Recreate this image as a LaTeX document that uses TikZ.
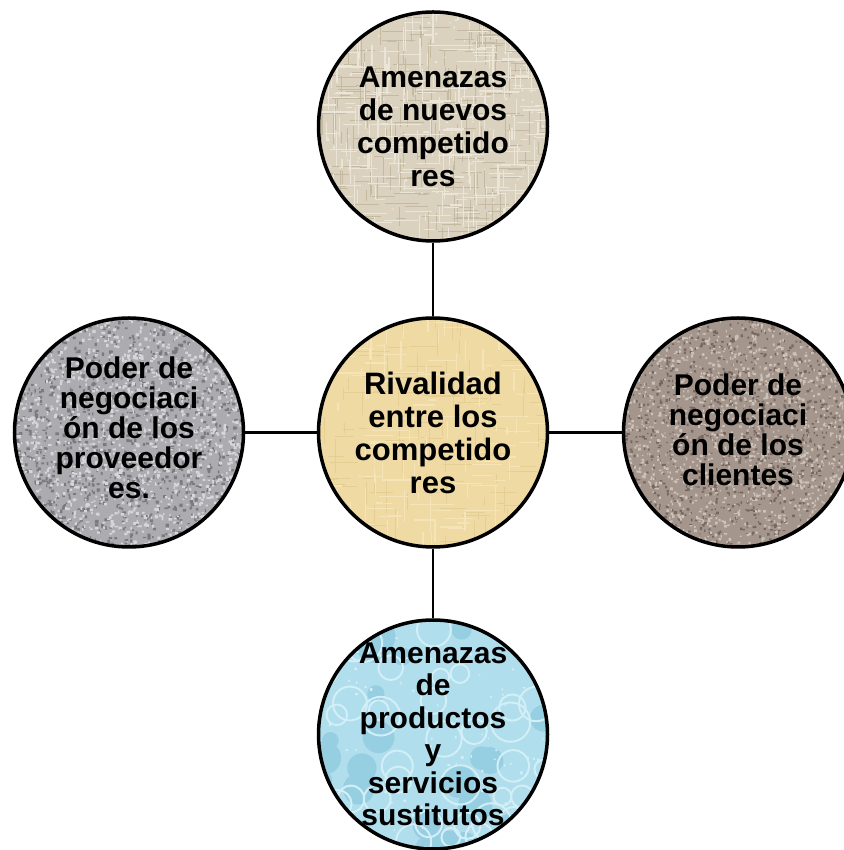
\documentclass[tikz,border=0pt]{standalone}
\usepackage{fontspec}
\setmainfont{Liberation Sans}

% base tones of the five discs
\definecolor{linen}{RGB}{218,210,190}
\definecolor{linendark}{RGB}{196,186,162}
\definecolor{linenlight}{RGB}{234,229,214}
\definecolor{papyrus}{RGB}{238,218,162}
\definecolor{papyrusdark}{RGB}{228,206,148}
\definecolor{papyruslight}{RGB}{244,228,184}
\definecolor{granite}{RGB}{172,172,176}
\definecolor{granitedark}{RGB}{122,122,128}
\definecolor{granitelight}{RGB}{214,214,218}
\definecolor{sand}{RGB}{164,150,140}
\definecolor{sanddark}{RGB}{118,104,96}
\definecolor{sandlight}{RGB}{204,194,184}
\definecolor{water}{RGB}{176,222,236}
\definecolor{waterdark}{RGB}{150,206,226}
\definecolor{waterlight}{RGB}{210,238,246}

% random square grains: count, colour, smallest and largest side
\newcommand\grains[4]{%
  \fill[#2] \foreach \i in {1,...,#1}{
    (rand*118,rand*118) rectangle ++({#3+rnd*(#4-#3)},{#3+rnd*(#4-#3)})};}
% short woven threads: count, colour, width, horizontal (1) or vertical (0)
\newcommand\threads[4]{%
  \ifnum#4=1
    \draw[#2,line width=#3] \foreach \i in {1,...,#1}{
      (rand*118,rand*118) -- ++({6+rnd*30},0)};
  \else
    \draw[#2,line width=#3] \foreach \i in {1,...,#1}{
      (rand*118,rand*118) -- ++(0,{6+rnd*30})};
  \fi}

\begin{document}
\begin{tikzpicture}[x=1pt,y=1pt,
  force/.style={circle,draw=black,line width=3.5pt,minimum size=229pt,
    inner sep=0pt},
  texture/.style={path picture={\begin{scope}[shift={(path picture bounding box.center)}]#1\end{scope}}},
  forcetext/.style={align=center,inner sep=0pt,
    font=\fontsize{30}{#1}\selectfont\bfseries},
  link/.style={draw=black,line width=2.2pt}]

\useasboundingbox (0,0) rectangle (843,850);

% discs
\node[force,fill=linen,texture={%
    \pgfmathsetseed{11}
    \threads{160}{linendark}{0.9pt}{1}\threads{160}{linendark}{0.9pt}{0}
    \threads{200}{linenlight}{1.1pt}{1}\threads{200}{linenlight}{1.1pt}{0}
    \grains{150}{linenlight}{1}{2.5}}]
  (threat) at (433,723.5) {};
\node[force,fill=papyrus,texture={%
    \pgfmathsetseed{23}
    \threads{70}{papyrusdark}{0.9pt}{1}\threads{70}{papyrusdark}{0.9pt}{0}
    \threads{90}{papyruslight}{1.2pt}{1}\threads{80}{papyruslight}{1.2pt}{0}}]
  (rivalry) at (433,417.5) {};
\node[force,fill=granite,texture={%
    \pgfmathsetseed{37}
    \grains{1400}{granitedark}{1.2}{3.6}
    \grains{1600}{granitelight}{1.2}{3.4}}]
  (suppliers) at (129,417.5) {};
\node[force,fill=sand,texture={%
    \pgfmathsetseed{41}
    \grains{1400}{sanddark}{1}{3}
    \grains{1600}{sandlight}{1}{3}}]
  (clients) at (738,417.5) {};
\node[force,fill=water,texture={%
    \pgfmathsetseed{53}
    \fill[waterdark] \foreach \i in {1,...,30}{
      (rand*118,rand*118) circle[radius={8+rnd*10}]};
    \draw[waterlight,line width=2pt] \foreach \i in {1,...,40}{
      (rand*118,rand*118) circle[radius={8+rnd*12}]};
    \grains{100}{waterlight}{1.2}{3}}]
  (substitutes) at (433,115.5) {};

% connectors
\draw[link] (threat) -- (rivalry);
\draw[link] (rivalry) -- (substitutes);
\draw[link] (suppliers) -- (rivalry);
\draw[link] (rivalry) -- (clients);

% captions
\node[forcetext=33] (tthreat) at (threat) {Amenazas\\de nuevos\\competido\\res};
\node[forcetext=33,font=\fontsize{31}{33}\selectfont\bfseries] (trivalry) at (rivalry)
  {Rivalidad\\entre los\\competido\\res};
\node[forcetext=30] (tsuppliers) at ([yshift=5]suppliers.center)
  {Poder de\\negociaci\\ón de los\\proveedor\\es.};
\node[forcetext=30] (tclients) at ([yshift=3]clients.center)
  {Poder de\\negociaci\\ón de los\\clientes};
\node[forcetext=32.5] (tsubstitutes) at (substitutes)
  {Amenazas\\de\\productos\\y\\servicios\\sustitutos};
\end{tikzpicture}
\end{document}
